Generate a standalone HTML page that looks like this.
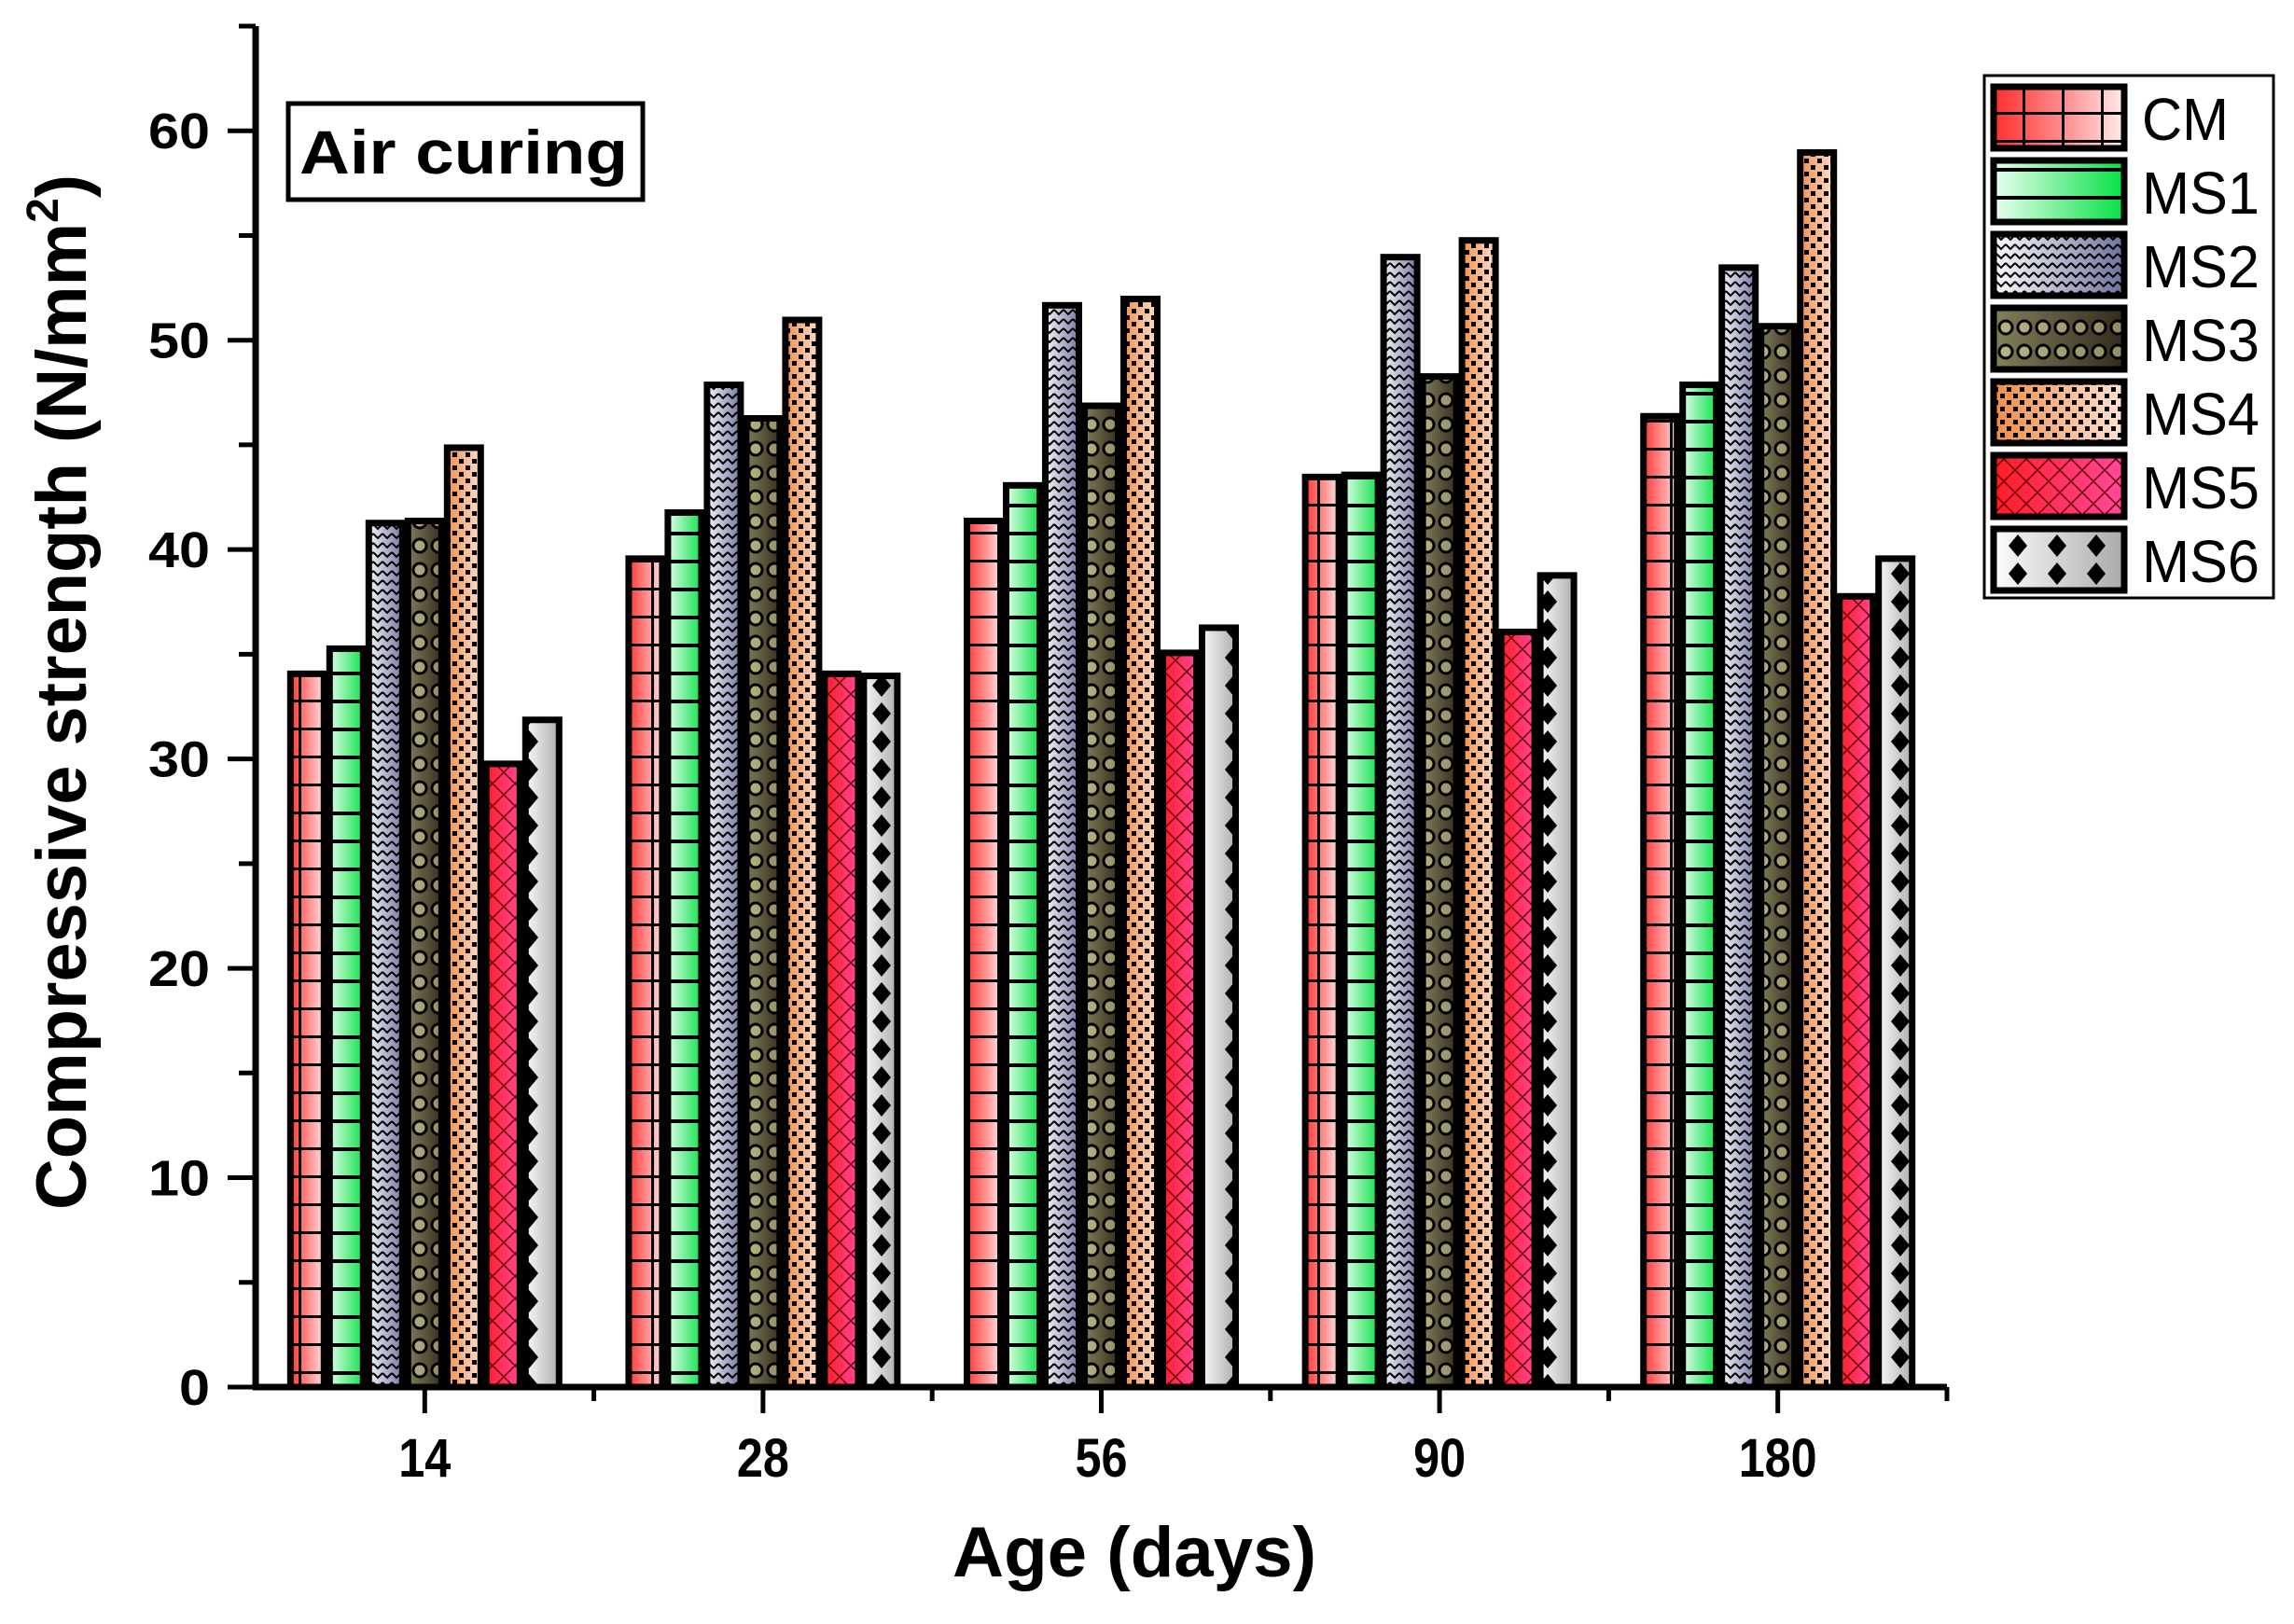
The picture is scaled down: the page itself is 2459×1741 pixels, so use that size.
<!DOCTYPE html>
<html><head><meta charset="utf-8"><style>
html,body{margin:0;padding:0;background:#fff;}
svg{display:block;}
text{font-family:"Liberation Sans",Arial,sans-serif;font-weight:bold;fill:#000;}
</style></head><body>
<svg id="chart" width="2459" height="1741" viewBox="0 0 2459 1741">
<defs>
  <linearGradient id="g0" x1="0" y1="0" x2="1" y2="0"><stop offset="0" stop-color="#ff2a2a"/><stop offset="0.6" stop-color="#ff9a9a"/><stop offset="1" stop-color="#fff0f0"/></linearGradient>
  <linearGradient id="g1" x1="0" y1="0" x2="1" y2="0"><stop offset="0" stop-color="#f0fff4"/><stop offset="1" stop-color="#00e040"/></linearGradient>
  <linearGradient id="g2" x1="0" y1="0" x2="1" y2="0"><stop offset="0" stop-color="#ffffff"/><stop offset="1" stop-color="#6a6e9a"/></linearGradient>
  <linearGradient id="g3" x1="0" y1="0" x2="1" y2="0"><stop offset="0" stop-color="#f2eea8"/><stop offset="1" stop-color="#5a4a30"/></linearGradient>
  <linearGradient id="g4" x1="0" y1="0" x2="1" y2="0"><stop offset="0" stop-color="#f08a40"/><stop offset="1" stop-color="#ffe4d8"/></linearGradient>
  <linearGradient id="g5" x1="0" y1="0" x2="1" y2="0"><stop offset="0" stop-color="#ff1a20"/><stop offset="1" stop-color="#ff4aa0"/></linearGradient>
  <linearGradient id="g6" x1="0" y1="0" x2="1" y2="0"><stop offset="0" stop-color="#ffffff"/><stop offset="1" stop-color="#a8a8a8"/></linearGradient>
  <pattern id="p0" width="42" height="30" patternUnits="userSpaceOnUse"><rect x="0" y="0" width="42" height="3" fill="#000"/><rect x="26" y="0" width="3" height="30" fill="#000"/></pattern>
  <pattern id="p1" width="42" height="30" patternUnits="userSpaceOnUse"><rect x="0" y="0" width="42" height="4" fill="#000"/></pattern>
  <pattern id="p2" width="10" height="10" patternUnits="userSpaceOnUse"><path d="M0 2 L5 7 L10 2" stroke="#000" stroke-width="2" fill="none"/></pattern>
  <pattern id="p3" width="20" height="26" patternUnits="userSpaceOnUse"><rect width="20" height="26" fill="rgba(0,0,0,0.45)"/><circle cx="10" cy="13" r="7" fill="rgba(240,236,170,0.5)" stroke="#000" stroke-width="3"/></pattern>
  <pattern id="p4" width="14" height="14" patternUnits="userSpaceOnUse"><rect x="2" y="2" width="5" height="5" fill="#000"/><rect x="9" y="9" width="5" height="5" fill="#000"/></pattern>
  <pattern id="p5" width="24" height="24" patternUnits="userSpaceOnUse"><path d="M0 0 L24 24 M24 0 L0 24" stroke="#600" stroke-width="1.5" fill="none"/></pattern>
  <pattern id="p6" width="42" height="30" patternUnits="userSpaceOnUse"><path d="M21 3 L31 15 L21 27 L11 15 Z" fill="#000"/></pattern>
</defs>
<g id="plot"></g>
<rect x="309" y="111" width="380" height="103" fill="#fff" stroke="#000" stroke-width="5"/>
<text x="497" y="186" font-size="66" text-anchor="middle" textLength="352" lengthAdjust="spacingAndGlyphs">Air curing</text>
<text transform="translate(92,742) rotate(-90)" font-size="76" text-anchor="middle" textLength="1110" lengthAdjust="spacingAndGlyphs">Compressive strength (N/mm<tspan font-size="48" dy="-30">2</tspan><tspan dy="30">)</tspan></text>
<text x="1216" y="1690" font-size="76" text-anchor="middle" textLength="390" lengthAdjust="spacingAndGlyphs">Age (days)</text>
<g id="legend"></g>
</svg>
<script>
const categories = ["14", "28", "56", "90", "180"];
const seriesNames = ["CM", "MS1", "MS2", "MS3", "MS4", "MS5", "MS6"];
const valsCM  = [34.2, 39.7, 41.5, 43.6, 46.5];
const valsMS1 = [35.4, 41.9, 43.2, 43.7, 48.0];
const valsMS2 = [41.4, 48.0, 51.8, 54.1, 53.6];
const valsMS3 = [41.5, 46.4, 47.0, 48.4, 50.8];
const valsMS4 = [45.0, 51.1, 52.1, 54.9, 59.1];
const valsMS5 = [29.9, 34.2, 35.2, 36.2, 37.9];
const valsMS6 = [32.0, 34.1, 36.4, 38.9, 39.7];
const yTicks = [0, 10, 20, 30, 40, 50, 60];

const NS = "http://www.w3.org/2000/svg";
const series = [valsCM, valsMS1, valsMS2, valsMS3, valsMS4, valsMS5, valsMS6];
const X0 = 274, X1 = 2087, Y0 = 1487, YTOP = 28;
const yMin = 0, yMax = 65;
function yScale(v){ return Y0 - (v - yMin) / (yMax - yMin) * (Y0 - YTOP); }
const band = (X1 - X0) / categories.length;
function xCenter(i){ return X0 + band * (i + 0.5); }
const barW = 42;
function el(tag, attrs){ const e = document.createElementNS(NS, tag); for (const k in attrs) e.setAttribute(k, attrs[k]); return e; }
const plot = document.getElementById('plot');

series.forEach((vals, s) => {
  vals.forEach((v, i) => {
    const g = el('g', {});
    
    
    const x = xCenter(i) - 3.5 * barW + s * barW;
    const y = yScale(v), h = Y0 - y;
    g.appendChild(el('rect', {x: x, y: y, width: barW, height: h, fill: 'url(#g' + s + ')'}));
    g.appendChild(el('rect', {x: x, y: y, width: barW, height: h, fill: 'url(#p' + s + ')'}));
    g.appendChild(el('rect', {x: x + 3, y: y + 3, width: barW - 6, height: h - 3, fill: 'none', stroke: '#000', 'stroke-width': 7}));
    plot.appendChild(g);
  });
});

const yAxis = el('line', {x1: X0, y1: YTOP, x2: X0, y2: Y0 + 3, stroke: '#000', 'stroke-width': 7});


plot.appendChild(yAxis);
const xAxis = el('line', {x1: X0 - 3, y1: Y0, x2: X1, y2: Y0, stroke: '#000', 'stroke-width': 7});


plot.appendChild(xAxis);

yTicks.forEach(t => {
  const y = yScale(t);
  const tk = el('line', {x1: X0 - 30, y1: y, x2: X0, y2: y, stroke: '#000', 'stroke-width': 5});
  
  
  plot.appendChild(tk);
  const lbl = String(t);
  const tx = el('text', {x: 225, y: y + 19, 'font-size': 54, 'text-anchor': 'end', textLength: 33 * lbl.length, lengthAdjust: 'spacingAndGlyphs'});
  
  
  tx.textContent = lbl;
  plot.appendChild(tx);
  if (t + 5 <= yMax) {
    const my = yScale(t + 5);
    const mk = el('line', {x1: X0 - 18, y1: my, x2: X0, y2: my, stroke: '#000', 'stroke-width': 5});
    
    
    plot.appendChild(mk);
  }
});

categories.forEach((c, i) => {
  const x = xCenter(i);
  const tk = el('line', {x1: x, y1: Y0, x2: x, y2: Y0 + 28, stroke: '#000', 'stroke-width': 5});
  
  
  plot.appendChild(tk);
  const mx = X0 + band * (i + 1);
  const mk = el('line', {x1: mx, y1: Y0, x2: mx, y2: Y0 + 15, stroke: '#000', 'stroke-width': 5});
  
  
  plot.appendChild(mk);
  const tx = el('text', {x: x, y: 1583, 'font-size': 58, 'text-anchor': 'middle', textLength: 28 * c.length, lengthAdjust: 'spacingAndGlyphs'});
  
  
  tx.textContent = c;
  plot.appendChild(tx);
});

const leg = document.getElementById('legend');
leg.appendChild(el('rect', {x: 2127, y: 81, width: 310, height: 560, fill: '#fff', stroke: '#000', 'stroke-width': 3}));
seriesNames.forEach((n, s) => {
  const y = 90 + s * 79;
  const g = el('g', {});
  
  
  g.appendChild(el('rect', {x: 2134, y: y, width: 146, height: 72, fill: 'url(#g' + s + ')'}));
  g.appendChild(el('rect', {x: 2134, y: y, width: 146, height: 72, fill: 'url(#p' + s + ')'}));
  g.appendChild(el('rect', {x: 2137, y: y + 3, width: 140, height: 66, fill: 'none', stroke: '#000', 'stroke-width': 7}));
  const t = el('text', {x: 2296, y: y + 60, 'font-size': 64, textLength: n.length === 2 ? 93 : 126, lengthAdjust: 'spacingAndGlyphs'});
  t.setAttribute('style', 'font-weight:normal');
  t.textContent = n;
  g.appendChild(t);
  leg.appendChild(g);
});
</script>
</body></html>
